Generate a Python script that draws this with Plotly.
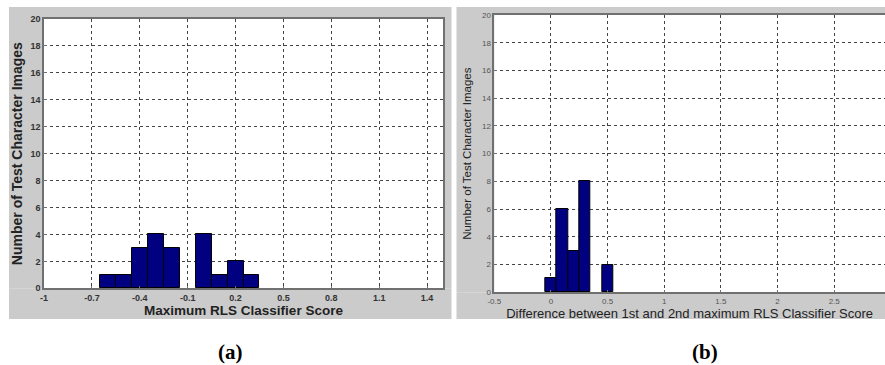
import plotly.graph_objects as go

# ---- data ----
a_centers = [-0.6, -0.5, -0.4, -0.3, -0.2, -0.1, 0.0, 0.1, 0.2, 0.3]
a_counts = [1, 1, 3, 4, 3, 0, 4, 1, 2, 1]
a_xticks = [-1, -0.7, -0.4, -0.1, 0.2, 0.5, 0.8, 1.1, 1.4]
a_xticklabels = ["-1", "-0.7", "-0.4", "-0.1", "0.2", "0.5", "0.8", "1.1", "1.4"]

b_centers = [0.0, 0.1, 0.2, 0.3, 0.4, 0.5]
b_counts = [1, 6, 3, 8, 0, 2]
b_xticks = [-0.5, 0, 0.5, 1, 1.5, 2, 2.5]
b_xticklabels = ["-0.5", "0", "0.5", "1", "1.5", "2", "2.5"]

y_ticks = list(range(0, 21, 2))
y_ticklabels = [str(v) for v in y_ticks]

W, H = 885, 365
def px(x):
    return x / W
def py(y):
    return 1 - y / H

BAR = "#000080"
GRAY = "#cbcbcb"
FRAME = "#707070"

A_X = (44, 443)
A_Y = (19, 288.3)
B_X = (494.3, 885)
B_Y = (15, 292.3)
A_PANEL = (9, 451.5, 7, 319)
B_PANEL = (456.5, 885, 7, 319)

def outline_widths(counts):
    # empty bins get no outline (no stray line on the baseline)
    return [1 if c > 0 else 0 for c in counts]

fig = go.Figure()
fig.add_trace(go.Bar(x=a_centers, y=a_counts, width=0.1, xaxis="x", yaxis="y",
                     marker=dict(color=BAR, line=dict(color="#000000", width=outline_widths(a_counts))),
                     showlegend=False, hoverinfo="skip"))
fig.add_trace(go.Bar(x=b_centers, y=b_counts, width=0.1, xaxis="x2", yaxis="y2",
                     marker=dict(color=BAR, line=dict(color="#000000", width=outline_widths(b_counts))),
                     showlegend=False, hoverinfo="skip"))

common = dict(showgrid=True, gridcolor="#444444", griddash="dot", gridwidth=1, zeroline=False,
              automargin=False, showline=True, linecolor=FRAME, linewidth=1.5,
              ticks="inside", ticklen=3, tickcolor=FRAME)

def rect(x0, x1, y0, y1, color):
    # pixel coordinates, y measured from the top
    return dict(type="rect", xref="paper", yref="paper", layer="below",
                x0=px(x0), x1=px(x1), y0=py(y1), y1=py(y0),
                fillcolor=color, line=dict(width=0))

def frame(panel, inner_x, inner_y):
    # gray panel drawn as four bands around the (white) plot area
    x0, x1, y0, y1 = panel
    return [
        rect(x0, x1, y0, inner_y[0], GRAY),
        rect(x0, x1, inner_y[1], y1, GRAY),
        rect(x0, inner_x[0], inner_y[0], inner_y[1], GRAY),
        rect(inner_x[1], x1, inner_y[0], inner_y[1], GRAY),
    ]

shapes = frame(A_PANEL, A_X, A_Y) + frame(B_PANEL, B_X, B_Y)

fig.update_layout(
    width=W, height=H,
    margin=dict(l=0, r=0, t=0, b=0, pad=0),
    paper_bgcolor="white",
    plot_bgcolor="white",
    bargap=0,
    font=dict(family="Liberation Sans, Arial, sans-serif", color="#222222"),
    xaxis=dict(domain=[px(A_X[0]), px(A_X[1])], range=[-1, 1.5], anchor="y",
               tickvals=a_xticks, ticktext=a_xticklabels, mirror=True,
               tickfont=dict(size=9, family="Liberation Sans", color="#333333", weight="bold"),
               title=dict(text="<b>Maximum RLS Classifier Score</b>", font=dict(size=13.5, color="#222222"),
                          standoff=4),
               **common),
    yaxis=dict(domain=[py(A_Y[1]), py(A_Y[0])], range=[0, 20], anchor="x",
               tickvals=y_ticks, ticktext=y_ticklabels, mirror=True,
               tickfont=dict(size=9, family="Liberation Sans", color="#333333", weight="bold"),
               title=dict(text="<b>Number of Test Character Images</b>", font=dict(size=14, color="#222222"),
                          standoff=5),
               **common),
    xaxis2=dict(domain=[px(B_X[0]), 1.0], range=[-0.5, -0.5 + (885 - 494.3) / 113.3], anchor="y2",
                tickvals=b_xticks, ticktext=b_xticklabels, mirror=True,
                tickfont=dict(size=8, family="Liberation Sans", color="#555555"),
                title=dict(text="Difference between 1st and 2nd maximum RLS Classifier Score",
                           font=dict(size=13, color="#222222"), standoff=2),
                **common),
    yaxis2=dict(domain=[py(B_Y[1]), py(B_Y[0])], range=[0, 20], anchor="x2",
                tickvals=y_ticks, ticktext=y_ticklabels, mirror=False,
                tickfont=dict(size=8, family="Liberation Sans", color="#555555"),
                title=dict(text="Number of Test Character Images", font=dict(size=11.5, color="#222222"),
                           standoff=8),
                **common),
    shapes=shapes,
    annotations=[
        dict(text="<b>(a)</b>", xref="paper", yref="paper", x=px(230), y=py(352),
             showarrow=False, font=dict(family="Liberation Serif, Times New Roman, serif", size=21, color="black"),
             xanchor="center", yanchor="middle"),
        dict(text="<b>(b)</b>", xref="paper", yref="paper", x=px(705), y=py(352),
             showarrow=False, font=dict(family="Liberation Serif, Times New Roman, serif", size=21, color="black"),
             xanchor="center", yanchor="middle"),
    ],
)

fig.write_html("out.html", config={"displayModeBar": False},
               post_script="document.body.style.margin='0';document.body.style.overflow='hidden';")
